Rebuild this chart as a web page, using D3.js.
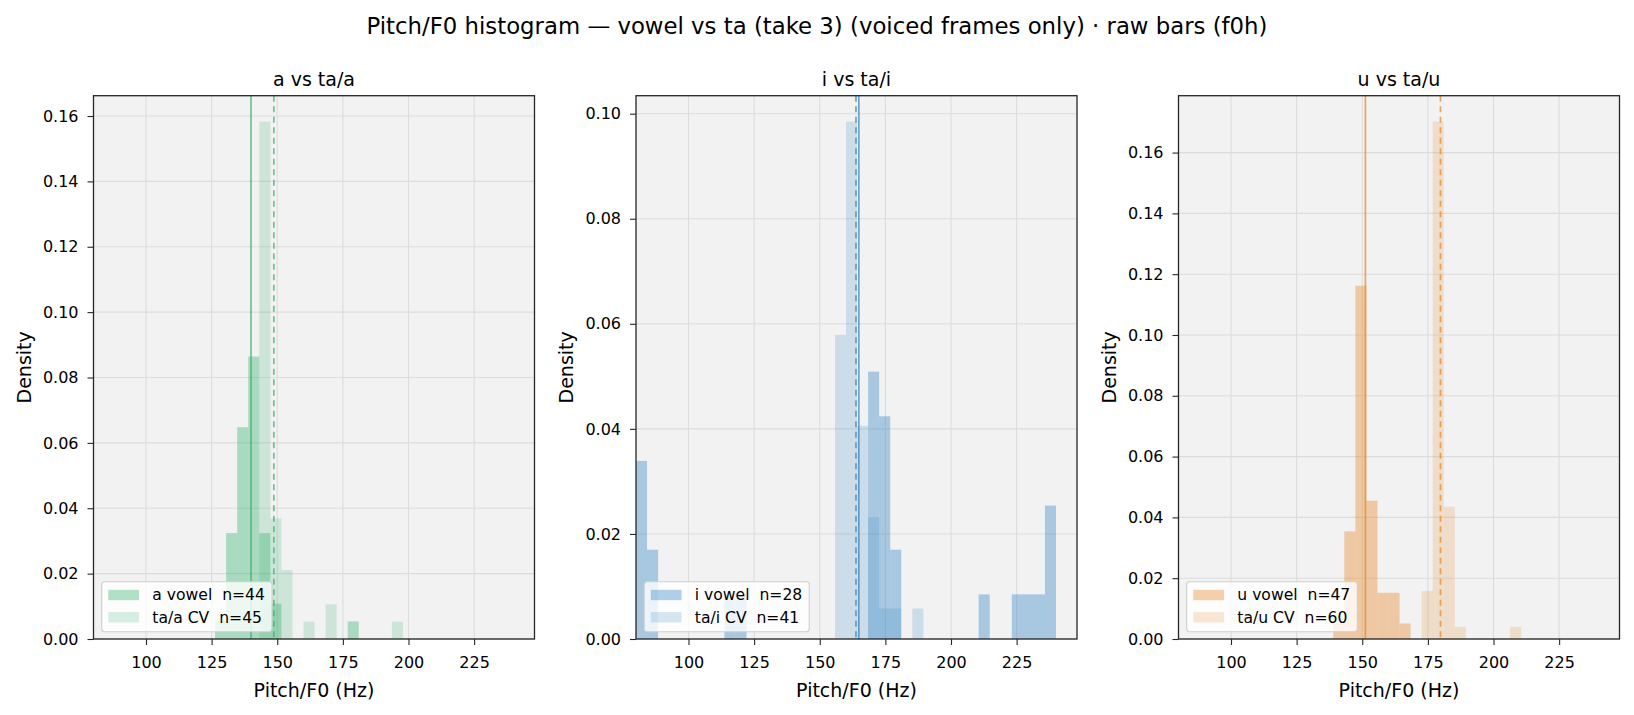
<!DOCTYPE html>
<html>
<head>
<meta charset="utf-8">
<script src="https://d3js.org/d3.v7.min.js"></script>
<style>
body { margin: 0; background: #fff; }
text { font-family: "DejaVu Sans", sans-serif; fill: #000; }
</style>
</head>
<body>
<script>
// ---- data ----
var suptitle = "Pitch/F0 histogram \u2014 vowel vs ta (take 3) (voiced frames only) \u00b7 raw bars (f0h)";
var panelTitles = ["a vs ta/a", "i vs ta/i", "u vs ta/u"];
var vowelLabels = ["a vowel  n=44", "i vowel  n=28", "u vowel  n=47"];
var cvLabels = ["ta/a CV  n=45", "ta/i CV  n=41", "ta/u CV  n=60"];
var xRange = [80, 248];
var xTicks = [100, 125, 150, 175, 200, 225];
var binWidth = 4.2105;   // Hz, shared bins 80..240

// a panel
var aVowelBins = [126.32, 130.53, 134.74, 138.95, 143.16, 147.37, 176.84];
var aVowelDens = [0.0054, 0.0324, 0.0648, 0.0864, 0.0324, 0.0108, 0.0054];
var taABins = [143.16, 147.37, 151.58, 160.00, 168.42, 193.68];
var taADens = [0.1583, 0.0369, 0.0211, 0.0053, 0.0106, 0.0053];
// i panel
var iVowelBins = [80.00, 84.21, 113.68, 117.89, 168.42, 172.63, 176.84, 210.53, 223.16, 227.37, 231.58, 235.79];
var iVowelDens = [0.0339, 0.0170, 0.0085, 0.0085, 0.0509, 0.0424, 0.0170, 0.0085, 0.0085, 0.0085, 0.0085, 0.0254];
var taIBins = [155.79, 160.00, 164.21, 168.42, 172.63, 176.84, 185.26];
var taIDens = [0.0579, 0.0985, 0.0406, 0.0232, 0.0058, 0.0058, 0.0058];
// u panel
var uVowelBins = [138.95, 143.16, 147.37, 151.58, 155.79, 160.00, 164.21];
var uVowelDens = [0.0051, 0.0354, 0.1162, 0.0455, 0.0152, 0.0152, 0.0051];
var taUBins = [172.63, 176.84, 181.05, 185.26, 206.32];
var taUDens = [0.0158, 0.1702, 0.0435, 0.0040, 0.0040];

var yTicksList = [
  [0, 0.02, 0.04, 0.06, 0.08, 0.10, 0.12, 0.14, 0.16],
  [0, 0.02, 0.04, 0.06, 0.08, 0.10],
  [0, 0.02, 0.04, 0.06, 0.08, 0.10, 0.12, 0.14, 0.16]
];
var vowelMeans = [140.0, 164.9, 151.2];
var cvMeans = [148.7, 163.8, 179.8];
var colors = ["rgb(60,179,113)", "rgb(55,137,197)", "rgb(232,137,42)"];

var panels = [
  { vb: aVowelBins, vd: aVowelDens, cb: taABins, cd: taADens },
  { vb: iVowelBins, vd: iVowelDens, cb: taIBins, cd: taIDens },
  { vb: uVowelBins, vd: uVowelDens, cb: taUBins, cd: taUDens }
];

// ---- layout ----
var W = 1634, H = 715;
var lefts = [93.5, 636, 1178.5];
var pw = 441;
var pTop = 95.7, pBot = 639;

var svg = d3.select("body").append("svg").attr("width", W).attr("height", H);

svg.append("text").attr("x", W / 2).attr("y", 34)
  .attr("text-anchor", "middle").attr("font-size", 22.8).text(suptitle);

panels.forEach(function(p, i) {
  var L = lefts[i];
  var g = svg.append("g");
  var x = d3.scaleLinear().domain(xRange).range([L, L + pw]);
  var yMax = d3.max(p.vd.concat(p.cd)) * 1.05;
  var y = d3.scaleLinear().domain([0, yMax]).range([pBot, pTop]);
  var c = colors[i];

  var clipId = "clip" + i;
  svg.append("clipPath").attr("id", clipId).append("rect")
    .attr("x", L).attr("y", pTop).attr("width", pw).attr("height", pBot - pTop);

  g.append("rect").attr("x", L).attr("y", pTop).attr("width", pw).attr("height", pBot - pTop)
    .attr("fill", "#f2f2f2");

  // grid
  g.selectAll(".gx").data(xTicks).enter().append("line")
    .attr("x1", function(d) { return x(d); }).attr("x2", function(d) { return x(d); })
    .attr("y1", pTop).attr("y2", pBot)
    .attr("stroke", "#dcdcdc").attr("stroke-width", 1.1);
  g.selectAll(".gy").data(yTicksList[i]).enter().append("line")
    .attr("x1", L).attr("x2", L + pw)
    .attr("y1", function(d) { return y(d); }).attr("y2", function(d) { return y(d); })
    .attr("stroke", "#dcdcdc").attr("stroke-width", 1.1);

  var plot = g.append("g").attr("clip-path", "url(#" + clipId + ")");

  // vowel bars then CV bars
  plot.selectAll(".vb").data(p.vb).enter().append("rect")
    .attr("x", function(d) { return x(d); })
    .attr("width", function(d) { return x(d + binWidth) - x(d); })
    .attr("y", function(d, j) { return y(p.vd[j]); })
    .attr("height", function(d, j) { return pBot - y(p.vd[j]); })
    .attr("fill", c).attr("fill-opacity", 0.4);
  plot.selectAll(".cb").data(p.cb).enter().append("rect")
    .attr("x", function(d) { return x(d); })
    .attr("width", function(d) { return x(d + binWidth) - x(d); })
    .attr("y", function(d, j) { return y(p.cd[j]); })
    .attr("height", function(d, j) { return pBot - y(p.cd[j]); })
    .attr("fill", c).attr("fill-opacity", 0.2);

  // mean lines
  plot.append("line").attr("x1", x(vowelMeans[i])).attr("x2", x(vowelMeans[i]))
    .attr("y1", pTop).attr("y2", pBot)
    .attr("stroke", c).attr("stroke-opacity", 0.75).attr("stroke-width", 1.7);
  plot.append("line").attr("x1", x(cvMeans[i])).attr("x2", x(cvMeans[i]))
    .attr("y1", pTop).attr("y2", pBot)
    .attr("stroke", c).attr("stroke-opacity", 0.75).attr("stroke-width", 1.7)
    .attr("stroke-dasharray", "6,4.5");

  // axes
  var xa = g.append("g").attr("transform", "translate(0," + pBot + ")")
    .call(d3.axisBottom(x).tickValues(xTicks).tickSize(6).tickPadding(12));
  var ya = g.append("g").attr("transform", "translate(" + L + ",0)")
    .call(d3.axisLeft(y).tickValues(yTicksList[i]).tickFormat(d3.format(".2f")).tickSize(6).tickPadding(9));
  [xa, ya].forEach(function(a) {
    a.select(".domain").remove();
    a.selectAll(".tick line").attr("stroke", "#262626").attr("stroke-width", 1.1);
    a.selectAll(".tick text").attr("font-size", 16).attr("fill", "#000")
      .style("font-family", "'DejaVu Sans', sans-serif");
  });

  // spines
  g.append("rect").attr("x", L).attr("y", pTop).attr("width", pw).attr("height", pBot - pTop)
    .attr("fill", "none").attr("stroke", "#262626").attr("stroke-width", 1.3);

  // titles and labels
  g.append("text").attr("x", L + pw / 2).attr("y", 86).attr("text-anchor", "middle")
    .attr("font-size", 19).text(panelTitles[i]);
  g.append("text").attr("x", L + pw / 2).attr("y", 697).attr("text-anchor", "middle")
    .attr("font-size", 19).text("Pitch/F0 (Hz)");
  g.append("text").attr("transform", "translate(" + (L - 63) + "," + ((pTop + pBot) / 2) + ") rotate(-90)")
    .attr("text-anchor", "middle").attr("font-size", 19).text("Density");

  // legend
  var lg = g.append("g");
  var bx = L + 8.2, by = pBot - 57.3;
  var box = lg.append("rect").attr("x", bx).attr("y", by).attr("height", 50)
    .attr("rx", 3).attr("fill", "#fff").attr("fill-opacity", 0.8)
    .attr("stroke", "#cfcfcf").attr("stroke-width", 1.1);
  var labels = [vowelLabels[i], cvLabels[i]];
  var alphas = [0.4, 0.2];
  var maxW = 0;
  labels.forEach(function(t, k) {
    var cy = pBot - 44 + k * 22.3;
    lg.append("rect").attr("x", bx + 6.6).attr("y", cy - 5.2).attr("width", 30.7).attr("height", 10.4)
      .attr("fill", c).attr("fill-opacity", alphas[k]);
    var tx = lg.append("text").attr("x", bx + 50.6).attr("y", cy).attr("dy", "0.35em")
      .attr("font-size", 15.6).style("white-space", "pre").attr("xml:space", "preserve").text(t);
    maxW = Math.max(maxW, tx.node().getComputedTextLength());
  });
  box.attr("width", 50.6 + maxW + 7);
});
</script>
</body>
</html>
